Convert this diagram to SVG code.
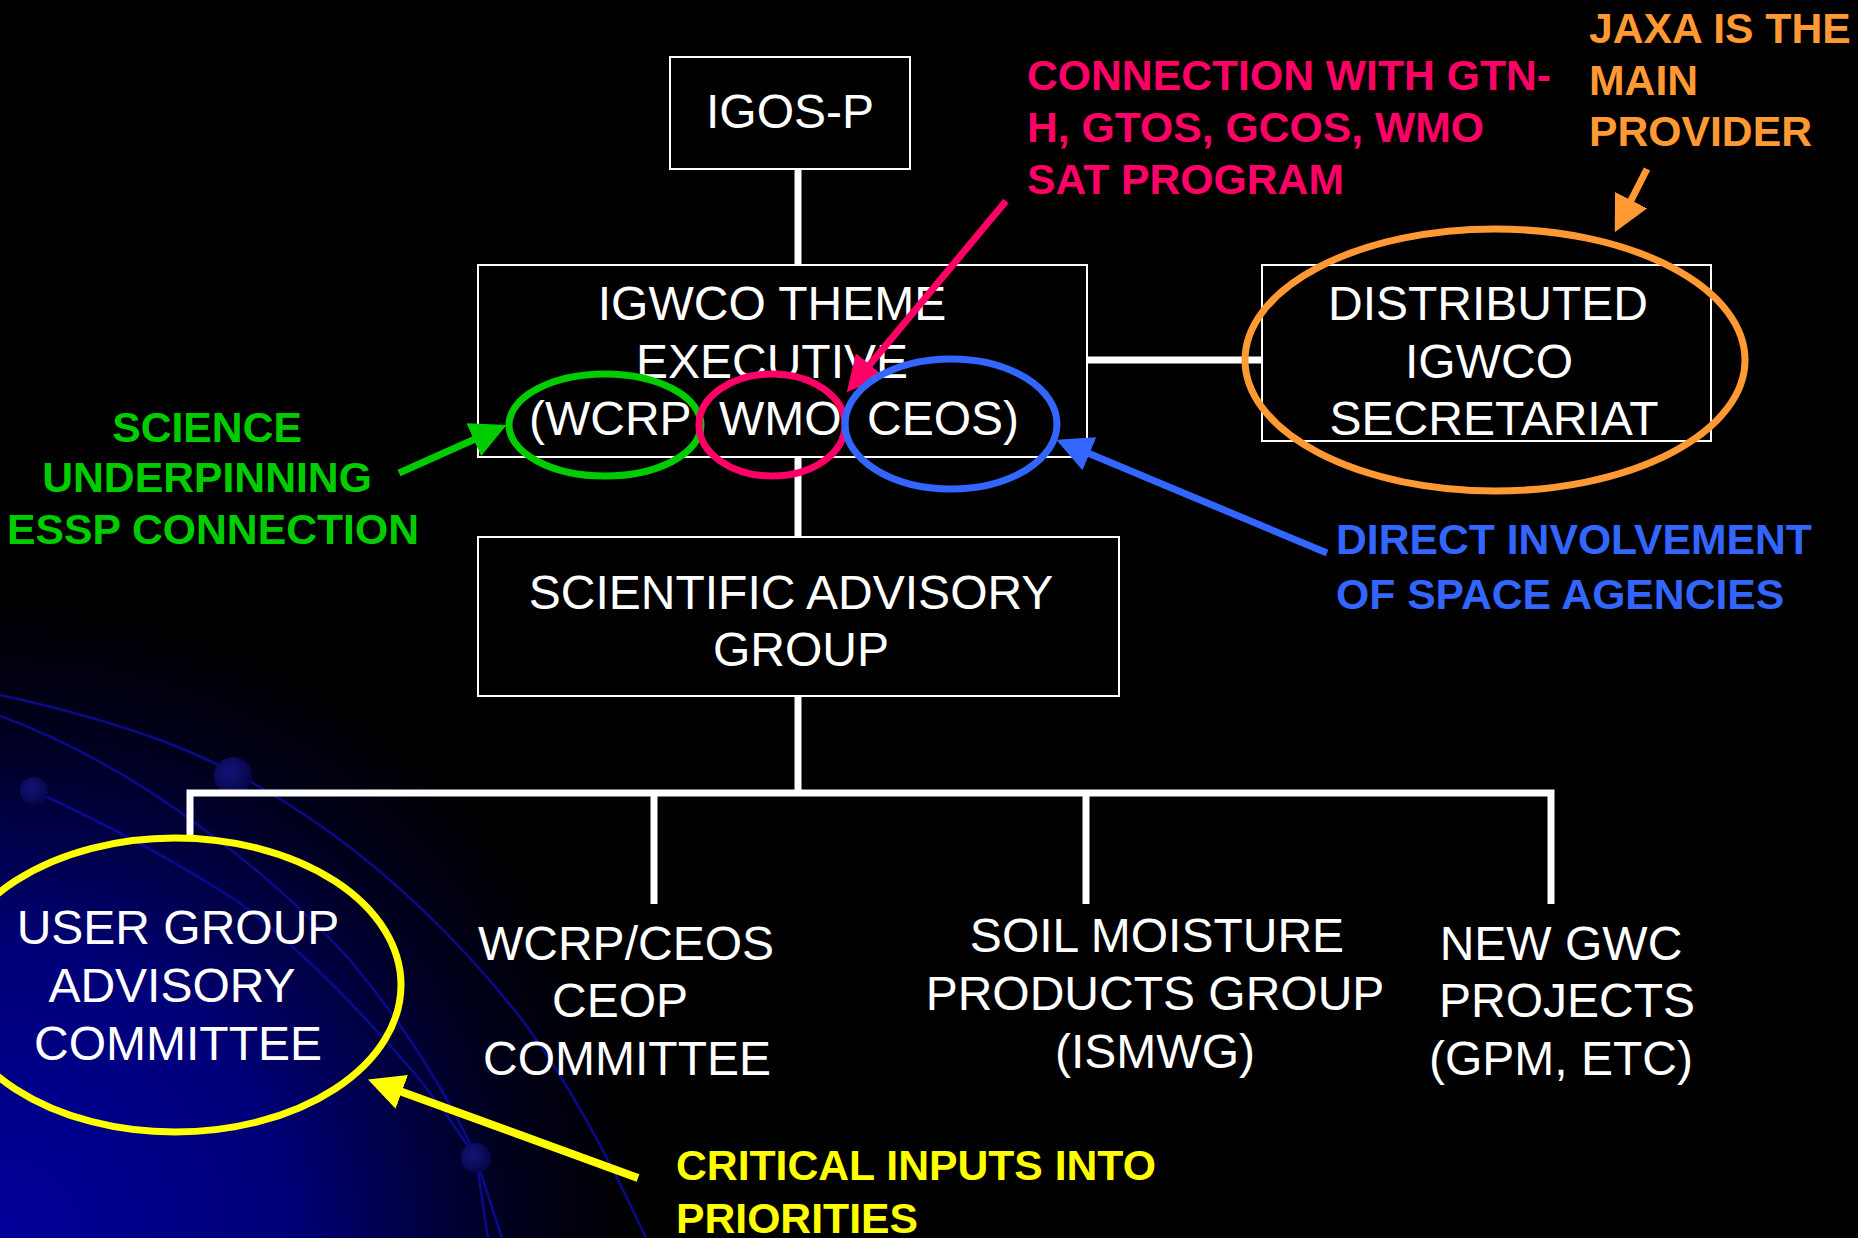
<svg xmlns="http://www.w3.org/2000/svg" width="1858" height="1238" viewBox="0 0 1858 1238">
  <defs>
    <radialGradient id="bgGlow" gradientUnits="userSpaceOnUse" cx="0" cy="1238" r="640">
      <stop offset="0" stop-color="#00009A"/>
      <stop offset="0.45" stop-color="#000078"/>
      <stop offset="0.8" stop-color="#00001C"/>
      <stop offset="1" stop-color="#000000"/>
    </radialGradient>
    <radialGradient id="dotGrad" cx="0.4" cy="0.4" r="0.6">
      <stop offset="0" stop-color="#141478"/>
      <stop offset="1" stop-color="#06064A"/>
    </radialGradient>
    <marker id="ahGreen" markerUnits="userSpaceOnUse" viewBox="0 0 36 36" markerWidth="36" markerHeight="36" refX="20" refY="18" orient="auto">
      <path d="M0,0 L36,18 L0,36 z" fill="#00CC00"/>
    </marker>
    <marker id="ahPink" markerUnits="userSpaceOnUse" viewBox="0 0 36 36" markerWidth="36" markerHeight="36" refX="20" refY="18" orient="auto">
      <path d="M0,0 L36,18 L0,36 z" fill="#FF0066"/>
    </marker>
    <marker id="ahBlue" markerUnits="userSpaceOnUse" viewBox="0 0 36 36" markerWidth="36" markerHeight="36" refX="20" refY="18" orient="auto">
      <path d="M0,0 L36,18 L0,36 z" fill="#3366FF"/>
    </marker>
    <marker id="ahOrange" markerUnits="userSpaceOnUse" viewBox="0 0 36 36" markerWidth="36" markerHeight="36" refX="20" refY="18" orient="auto">
      <path d="M0,0 L36,18 L0,36 z" fill="#FF9933"/>
    </marker>
    <marker id="ahYellow" markerUnits="userSpaceOnUse" viewBox="0 0 36 36" markerWidth="36" markerHeight="36" refX="20" refY="18" orient="auto">
      <path d="M0,0 L36,18 L0,36 z" fill="#FFFF00"/>
    </marker>
  </defs>
  <style>
    .box { fill: #000000; stroke: #FFFFFF; stroke-width: 2; }
    .node { font-family: "Liberation Sans", Arial, sans-serif; font-size: 48px; fill: #FFFFFF; text-anchor: middle; }
    .left { text-anchor: start; }
    .note { font-family: "Liberation Sans", Arial, sans-serif; font-size: 42.7px; font-weight: bold; }
    .conn { stroke: #FFFFFF; stroke-width: 7; fill: none; }
    .deco { stroke: #0A0A8C; stroke-width: 2.5; fill: none; }
    .ring { fill: none; stroke-width: 7; }
    .arrow { fill: none; }
  </style>

  <!-- background -->
  <rect x="0" y="0" width="1858" height="1238" fill="#000000"/>
  <rect x="0" y="0" width="1858" height="1238" fill="url(#bgGlow)"/>
  <g id="background-decoration">
    <path class="deco" d="M0,695 C60,708 110,722 160,740 C220,762 290,800 356,852 C420,902 480,965 526,1025 C570,1085 610,1160 646,1238"/>
    <path class="deco" d="M0,716 C60,738 120,770 180,812 C250,862 300,905 350,960 C400,1020 440,1080 474,1152 L502,1238"/>
    <path class="deco" d="M34,791 C100,821 170,858 237,901 C300,948 360,1010 415,1074 C445,1110 460,1135 476,1158 L488,1238"/>
    <circle cx="233" cy="776" r="19" fill="url(#dotGrad)"/>
    <circle cx="34" cy="791" r="14" fill="url(#dotGrad)"/>
    <circle cx="476" cy="1158" r="15" fill="url(#dotGrad)"/>
  </g>

  <!-- connectors -->
  <g id="connectors">
    <line class="conn" x1="798" y1="169" x2="798" y2="265"/>
    <line class="conn" x1="798" y1="457" x2="798" y2="537"/>
    <line class="conn" x1="1087" y1="360" x2="1262" y2="360"/>
    <line class="conn" x1="798" y1="696" x2="798" y2="793"/>
    <path class="conn" d="M190,840 L190,793 L1551,793 L1551,904" stroke-linejoin="miter"/>
    <line class="conn" x1="654" y1="793" x2="654" y2="904"/>
    <line class="conn" x1="1086" y1="793" x2="1086" y2="904"/>
  </g>

  <!-- nodes -->
  <g id="node-igos-p">
    <rect class="box" x="670" y="57" width="240" height="112"/>
    <text class="node" x="790" y="128">IGOS-P</text>
  </g>
  <g id="node-igwco-theme-executive">
    <rect class="box" x="478" y="265" width="609" height="192"/>
    <text class="node" x="772" y="320">IGWCO THEME</text>
    <text class="node" x="772" y="378">EXECUTIVE</text>
    <text class="node left" y="435"><tspan x="529">(WCRP</tspan><tspan x="694">, </tspan><tspan x="719">WMO</tspan><tspan x="838">, </tspan><tspan x="867">CEOS)</tspan></text>
  </g>
  <g id="node-distributed-secretariat">
    <rect class="box" x="1262" y="265" width="449" height="176"/>
    <text class="node" x="1488" y="320">DISTRIBUTED</text>
    <text class="node" x="1489" y="378">IGWCO</text>
    <text class="node" x="1494" y="435">SECRETARIAT</text>
  </g>
  <g id="node-scientific-advisory-group">
    <rect class="box" x="478" y="537" width="641" height="159"/>
    <text class="node" x="791" y="609">SCIENTIFIC ADVISORY</text>
    <text class="node" x="801" y="666">GROUP</text>
  </g>
  <g id="node-user-group">
    <text class="node" x="178" y="944">USER GROUP</text>
    <text class="node" x="172" y="1002">ADVISORY</text>
    <text class="node" x="178" y="1060">COMMITTEE</text>
  </g>
  <g id="node-wcrp-ceos">
    <text class="node" x="626" y="960">WCRP/CEOS</text>
    <text class="node" x="620" y="1017">CEOP</text>
    <text class="node" x="627" y="1075">COMMITTEE</text>
  </g>
  <g id="node-soil-moisture">
    <text class="node" x="1157" y="952">SOIL MOISTURE</text>
    <text class="node" x="1155" y="1010">PRODUCTS GROUP</text>
    <text class="node" x="1155" y="1068">(ISMWG)</text>
  </g>
  <g id="node-new-gwc">
    <text class="node" x="1561" y="960">NEW GWC</text>
    <text class="node" x="1567" y="1017">PROJECTS</text>
    <text class="node" x="1561" y="1075">(GPM, ETC)</text>
  </g>

  <!-- annotations -->
  <g id="annotation-green">
    <ellipse class="ring" cx="605" cy="425" rx="96" ry="51" stroke="#00CC00"/>
    <line class="arrow" x1="399" y1="473" x2="492" y2="431.5" stroke="#00CC00" stroke-width="7" marker-end="url(#ahGreen)"/>
    <text class="note" fill="#00CC00" text-anchor="middle">
      <tspan x="213" y="442">SCIENCE</tspan>
      <tspan x="213" y="492">UNDERPINNING</tspan>
      <tspan x="213" y="544">ESSP CONNECTION</tspan>
    </text>
  </g>
  <g id="annotation-pink">
    <ellipse class="ring" cx="772" cy="425" rx="73" ry="51" stroke="#FF0066"/>
    <line class="arrow" x1="1006" y1="201" x2="857" y2="380" stroke="#FF0066" stroke-width="7" marker-end="url(#ahPink)"/>
    <text class="note" fill="#FF0066">
      <tspan x="1027" y="90">CONNECTION WITH GTN-</tspan>
      <tspan x="1027" y="142">H, GTOS, GCOS, WMO</tspan>
      <tspan x="1027" y="194">SAT PROGRAM</tspan>
    </text>
  </g>
  <g id="annotation-blue">
    <ellipse class="ring" cx="951" cy="424" rx="106" ry="65" stroke="#3366FF"/>
    <line class="arrow" x1="1327" y1="553" x2="1071" y2="446" stroke="#3366FF" stroke-width="7" marker-end="url(#ahBlue)"/>
    <text class="note" fill="#3366FF">
      <tspan x="1336" y="554">DIRECT INVOLVEMENT</tspan>
      <tspan x="1336" y="609">OF SPACE AGENCIES</tspan>
    </text>
  </g>
  <g id="annotation-orange">
    <ellipse class="ring" cx="1495" cy="360" rx="250" ry="131" stroke="#FF9933" stroke-width="6"/>
    <line class="arrow" x1="1647" y1="169" x2="1622" y2="218" stroke="#FF9933" stroke-width="7" marker-end="url(#ahOrange)"/>
    <text class="note" fill="#FF9933">
      <tspan x="1589" y="43">JAXA IS THE</tspan>
      <tspan x="1589" y="95">MAIN</tspan>
      <tspan x="1589" y="146">PROVIDER</tspan>
    </text>
  </g>
  <g id="annotation-yellow">
    <ellipse class="ring" cx="175" cy="985" rx="226" ry="147" stroke="#FFFF00"/>
    <line class="arrow" x1="638" y1="1178" x2="383" y2="1085" stroke="#FFFF00" stroke-width="8" marker-end="url(#ahYellow)"/>
    <text class="note" fill="#FFFF00">
      <tspan x="676" y="1180">CRITICAL INPUTS INTO</tspan>
      <tspan x="676" y="1233">PRIORITIES</tspan>
    </text>
  </g>
</svg>
